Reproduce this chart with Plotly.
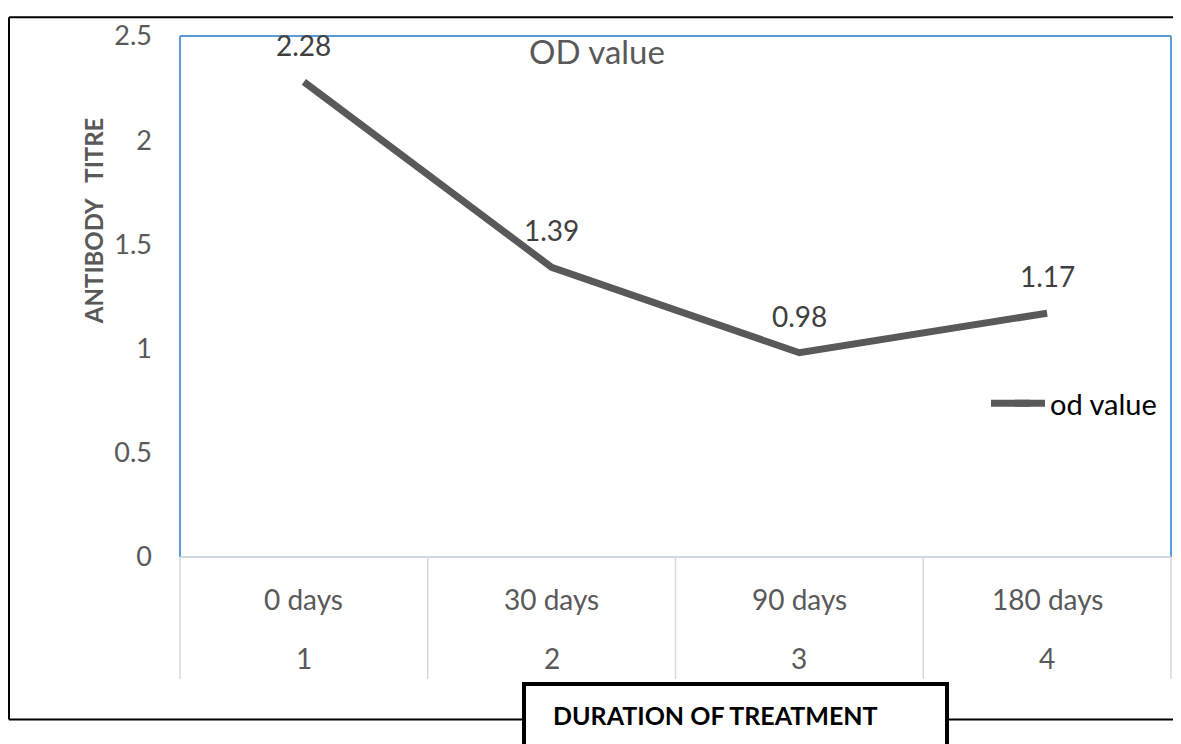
import plotly.graph_objects as go

# ---- data ----
x_positions = [1, 2, 3, 4]
categories = ["0 days", "30 days", "90 days", "180 days"]
index_labels = ["1", "2", "3", "4"]
od_values = [2.28, 1.39, 0.98, 1.17]
series_name = "od value"
chart_title = "OD value"
y_title = "ANTIBODY\u00a0\u00a0\u00a0TITRE"
x_title = "DURATION OF TREATMENT"

# ---- layout geometry (pixels, in reference coordinates) ----
OFF = 8  # page body margin
W, H = 1181 - OFF, 744 - OFF
L, R, T, B = 180, 1171, 28, 557
X_RANGE = [0.5, 4.5]


def px2x(p):
    return (p - L) / (R - L)


def py2y(p):
    return (B - p) / (B - T)


def data2paper(xv):
    return (xv - X_RANGE[0]) / (X_RANGE[1] - X_RANGE[0])


FONT = "Lato, Carlito, Calibri, sans-serif"
GRAY = "#595959"

fig = go.Figure()
fig.add_trace(go.Scatter(
    x=x_positions, y=od_values, mode="lines", name=series_name,
    line=dict(color=GRAY, width=7),
    hoverinfo="skip",
))

shapes = []
# outer black frame (right side cut off in reference)
shapes.append(dict(type="line", xref="paper", yref="paper", x0=px2x(9), x1=px2x(1200),
                   y0=py2y(9), y1=py2y(9), line=dict(color="black", width=2)))
shapes.append(dict(type="line", xref="paper", yref="paper", x0=px2x(9), x1=px2x(9),
                   y0=py2y(9), y1=py2y(722), line=dict(color="black", width=2)))
shapes.append(dict(type="line", xref="paper", yref="paper", x0=px2x(9), x1=px2x(1200),
                   y0=py2y(722), y1=py2y(722), line=dict(color="black", width=2)))
# plot area blue border
blue = "#5B9BD5"
shapes.append(dict(type="line", xref="paper", yref="paper", x0=0, x1=0, y0=0, y1=1,
                   line=dict(color=blue, width=2)))
shapes.append(dict(type="line", xref="paper", yref="paper", x0=0, x1=1, y0=1, y1=1,
                   line=dict(color=blue, width=2)))
shapes.append(dict(type="line", xref="paper", yref="paper", x0=1, x1=1, y0=0, y1=1,
                   line=dict(color=blue, width=2)))
# category separators
sep_color = "#D9D9D9"
for i in range(len(x_positions) + 1):
    xv = x_positions[0] - 0.5 + i
    shapes.append(dict(type="line", xref="paper", yref="paper",
                       x0=data2paper(xv), x1=data2paper(xv), y0=0, y1=py2y(681),
                       line=dict(color=sep_color, width=1.5)))
# x axis line
shapes.append(dict(type="line", xref="paper", yref="paper", x0=0, x1=1, y0=0, y1=0,
                   line=dict(color="#D0D8E2", width=2)))
# axis title box
shapes.append(dict(type="rect", xref="paper", yref="paper", x0=px2x(524), x1=px2x(947),
                   y0=py2y(686), y1=py2y(770), fillcolor="white",
                   line=dict(color="black", width=4)))
# longer legend key stroke (Excel-style)
shapes.append(dict(type="line", xref="paper", yref="paper", x0=px2x(991), x1=px2x(1030),
                   y0=py2y(401), y1=py2y(401), line=dict(color=GRAY, width=7)))

annotations = []
# data labels
for xv, v in zip(x_positions, od_values):
    annotations.append(dict(x=xv, y=v, xref="x", yref="y", text=f"{v:.2f}", showarrow=False,
                            yshift=37, font=dict(family=FONT, size=28, color="#404040")))
# category labels (two levels)
for xv, c, n in zip(x_positions, categories, index_labels):
    annotations.append(dict(x=xv, y=py2y(600), xref="x", yref="paper", text=c, showarrow=False,
                            yanchor="middle", font=dict(family=FONT, size=28, color=GRAY)))
    annotations.append(dict(x=xv, y=py2y(660), xref="x", yref="paper", text=n, showarrow=False,
                            yanchor="middle", font=dict(family=FONT, size=28, color=GRAY)))
# y axis title
annotations.append(dict(x=px2x(93), y=py2y(216), xref="paper", yref="paper", text=f"<b>{y_title}</b>",
                        textangle=-90, showarrow=False, xanchor="center", yanchor="middle",
                        font=dict(family=FONT, size=24, color=GRAY)))
# x axis title in box
annotations.append(dict(x=px2x(551), y=py2y(717), xref="paper", yref="paper",
                        text=f"<b>{x_title}</b>", showarrow=False, xanchor="left", yanchor="middle",
                        font=dict(family=FONT, size=25, color="black")))

fig.update_layout(
    width=W, height=H, autosize=False,
    margin=dict(l=L - OFF, r=(1181 - R), t=T - OFF, b=(H + OFF - B)),
    paper_bgcolor="white", plot_bgcolor="white",
    title=dict(text=chart_title, x=(597 - OFF) / W, xanchor="center", y=1 - (52 - OFF) / H,
               yanchor="middle", xref="container", yref="container",
               font=dict(family=FONT, size=33, color=GRAY)),
    xaxis=dict(range=X_RANGE, showticklabels=False, showgrid=False, zeroline=False,
               showline=False, ticks=""),
    yaxis=dict(range=[0, 2.5], dtick=0.5, tick0=0, showgrid=False, zeroline=False,
               showline=False, ticks="", ticklabelstandoff=27,
               tickfont=dict(family=FONT, size=27, color=GRAY)),
    showlegend=True,
    legend=dict(x=px2x(1010), y=py2y(401), xanchor="left", yanchor="middle",
                bgcolor="rgba(0,0,0,0)", font=dict(family=FONT, size=29, color="black"),
                itemwidth=30),
    shapes=shapes,
    annotations=annotations,
)

fig.write_html("out.html")
